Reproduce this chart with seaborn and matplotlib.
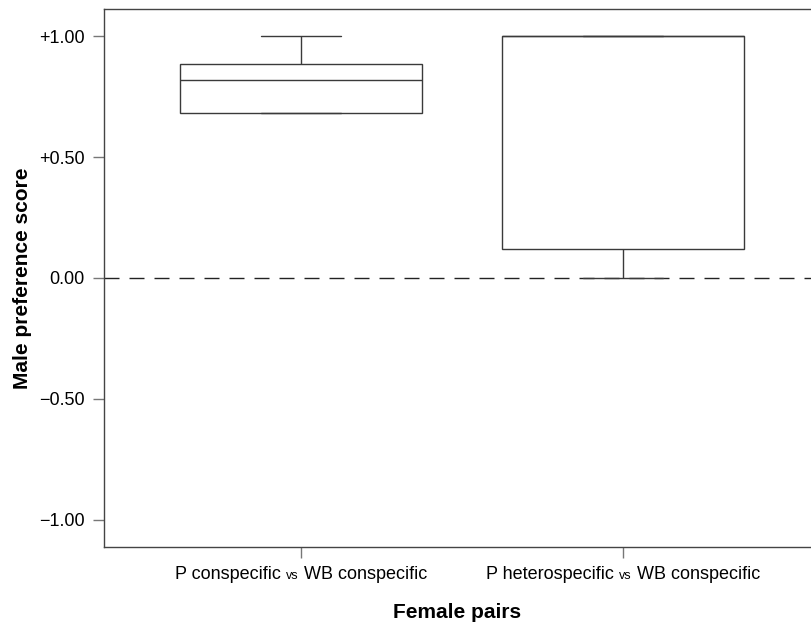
"""
Male preference scores by female pair type (box plot)
"""
import matplotlib
matplotlib.use("Agg")
import matplotlib.pyplot as plt
from matplotlib.offsetbox import TextArea, HPacker, AnnotationBbox
import seaborn as sns
import pandas as pd

# Data (five scores per pair type reproduce the box stats)
pairs = ["P conspecific vs WB conspecific", "P heterospecific vs WB conspecific"]
conspecific_scores = [0.68, 0.68, 0.82, 0.885, 1.00]
heterospecific_scores = [0.00, 0.12, 1.00, 1.00, 1.00]

label_parts = [("P conspecific ", "vs", " WB conspecific"),
               ("P heterospecific ", "vs", " WB conspecific")]
yticks = [-1.0, -0.5, 0.0, 0.5, 1.0]
ytick_labels = ["\u22121.00", "\u22120.50", "0.00", "+0.50", "+1.00"]

df = pd.DataFrame({
    "pair": [pairs[0]] * len(conspecific_scores) + [pairs[1]] * len(heterospecific_scores),
    "score": conspecific_scores + heterospecific_scores,
})

sns.set_style("ticks")
plt.rcParams["font.family"] = ["Liberation Sans", "DejaVu Sans"]
plt.rcParams["text.color"] = "black"
plt.rcParams["axes.labelcolor"] = "black"
plt.rcParams["xtick.labelcolor"] = "black"
plt.rcParams["ytick.labelcolor"] = "black"

fig = plt.figure(figsize=(8.11, 6.23), dpi=100)
ax = fig.add_axes([0.128, 0.122, 0.872, 0.8636])

ax.axhline(0, color="#222222", lw=1, ls=(0, (10.8, 7.2)), zorder=0)

sns.boxplot(data=df, x="pair", y="score", order=pairs, whis=(0, 100),
            width=0.75, color="white", linecolor="#3a3a3a", linewidth=1,
            capwidths=0.25, ax=ax)

ax.set_xlim(-0.612, 1.584)
ax.set_ylim(-1.112, 1.112)
ax.set_yticks(yticks)
ax.set_yticklabels(ytick_labels, fontsize=13)
ax.set_xticks(range(len(pairs)))
ax.set_xticklabels([])
ax.tick_params(axis="both", direction="out", length=8, width=1, color="#777777")
ax.tick_params(axis="y", pad=6)

for side in ["left", "bottom", "top"]:
    ax.spines[side].set_color("#444444")
    ax.spines[side].set_linewidth(1)
ax.spines["right"].set_visible(False)

# x tick labels with a smaller "vs"
for i, (a, b, c) in enumerate(label_parts):
    box = HPacker(children=[TextArea(a, textprops=dict(size=13)),
                            TextArea(b, textprops=dict(size=9)),
                            TextArea(c, textprops=dict(size=13))],
                  align="baseline", pad=0, sep=0)
    ab = AnnotationBbox(box, (i, 0), xycoords=("data", "axes fraction"),
                        xybox=(0, -14), boxcoords="offset points",
                        box_alignment=(0.5, 1), frameon=False, pad=0)
    ax.add_artist(ab)

ax.set_xlabel("Female pairs", fontsize=15, fontweight="bold", labelpad=29)
ax.set_ylabel("Male preference score", fontsize=15, fontweight="bold", labelpad=5)

fig.savefig("out.png", dpi=100)
